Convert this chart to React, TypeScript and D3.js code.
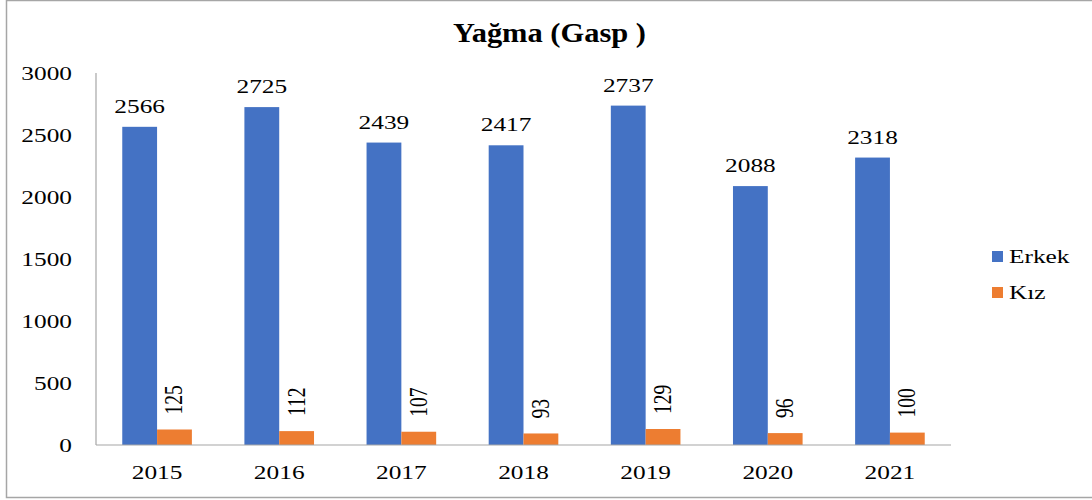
import React from "react";
import * as d3 from "d3";

const years = ["2015", "2016", "2017", "2018", "2019", "2020", "2021"];
const erkek = [2566, 2725, 2439, 2417, 2737, 2088, 2318];
const kiz = [125, 112, 107, 93, 129, 96, 100];
const yTicks = [0, 500, 1000, 1500, 2000, 2500, 3000];
const seriesNames = ["Erkek", "Kız"];
const colors = ["#4472C4", "#ED7D31"];
const title = "Yağma (Gasp )";

const W = 1092;
const H = 500;
const left = 96;
const right = 951;
const top = 73;
const bottom = 445;
const SX = 1.3;
const FONT = "'Liberation Serif', 'Times New Roman', serif";

export default function App() {
  const x = d3.scaleBand<string>().domain(years).range([left, right]).paddingInner(0.43).paddingOuter(0.215);
  const inner = d3.scaleBand<number>().domain([0, 1]).range([0, x.bandwidth()]);
  const y = d3.scaleLinear().domain([0, 3000]).range([bottom, top]);
  const series = [erkek, kiz];

  const stretched = (tx: number, ty: number, extra = "") =>
    `translate(${tx},${ty}) scale(${SX},1)${extra}`;

  return (
    <svg width={W} height={H} style={{ position: "absolute", left: 0, top: 0, background: "#fff" }}>
      <rect x={6.5} y={0.5} width={W} height={497} fill="#fff" stroke="#a6a6a6" strokeWidth={1.5} />
      <text
        transform={`translate(${(left + right) / 2 + 26},41.5) scale(1.15,1)`}
        textAnchor="middle"
        fontFamily={FONT}
        fontWeight="bold"
        fontSize={26.5}
        fill="#000"
      >
        {title}
      </text>

      {yTicks.map((t) => (
        <text
          key={t}
          transform={stretched(72, y(t) + 7)}
          textAnchor="end"
          fontFamily={FONT}
          fontSize={19.5}
          fill="#000"
        >
          {t}
        </text>
      ))}

      {series.map((vals, si) =>
        vals.map((v, i) => {
          const bx = (x(years[i]) as number) + (inner(si) as number);
          return (
            <rect
              key={`${si}-${i}`}
              x={bx}
              y={y(v)}
              width={inner.bandwidth()}
              height={bottom - y(v)}
              fill={colors[si]}
            />
          );
        })
      )}

      <line x1={left} x2={left} y1={top} y2={bottom} stroke="#a6a6a6" strokeWidth={1.2} />
      <line x1={left} x2={right} y1={bottom} y2={bottom} stroke="#a6a6a6" strokeWidth={1.2} />

      {erkek.map((v, i) => {
        const cx = (x(years[i]) as number) + (inner(0) as number) + inner.bandwidth() / 2;
        return (
          <text
            key={`e${i}`}
            transform={stretched(cx, y(v) - 14)}
            textAnchor="middle"
            fontFamily={FONT}
            fontSize={19.5}
            fill="#000"
          >
            {v}
          </text>
        );
      })}

      {kiz.map((v, i) => {
        const cx = (x(years[i]) as number) + (inner(1) as number) + inner.bandwidth() / 2 + 8;
        return (
          <text
            key={`k${i}`}
            transform={stretched(cx, y(v) - 15, " rotate(-90)")}
            textAnchor="start"
            fontFamily={FONT}
            fontSize={19.5}
            fill="#000"
          >
            {v}
          </text>
        );
      })}

      {years.map((yr) => (
        <text
          key={yr}
          transform={stretched((x(yr) as number) + x.bandwidth() / 2, 479)}
          textAnchor="middle"
          fontFamily={FONT}
          fontSize={19.5}
          fill="#000"
        >
          {yr}
        </text>
      ))}

      {seriesNames.map((n, i) => (
        <g key={n}>
          <rect x={992} y={251 + i * 36} width={11} height={11} fill={colors[i]} />
          <text
            transform={stretched(1009, 263 + i * 36)}
            fontFamily={FONT}
            fontSize={19.5}
            fill="#000"
          >
            {n}
          </text>
        </g>
      ))}
    </svg>
  );
}
